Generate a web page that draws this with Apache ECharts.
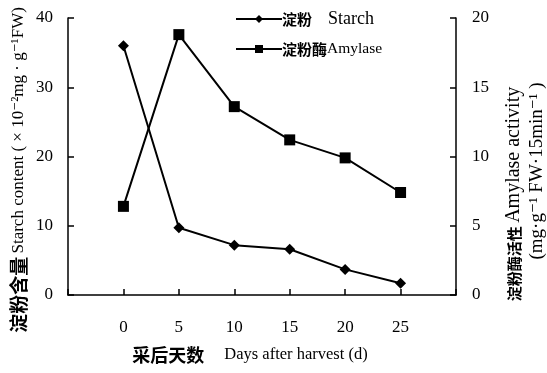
<!DOCTYPE html>
<html>
<head>
<meta charset="utf-8">
<script src="https://cdn.jsdelivr.net/npm/echarts@6/dist/echarts.min.js"></script>
<style>html,body{margin:0;padding:0;background:#fff;}#c{width:547px;height:373px;}</style>
</head>
<body>
<div id="c"></div>
<script>
var days = [0, 5, 10, 15, 20, 25];
var starch = [36.0, 9.7, 7.2, 6.6, 3.7, 1.7];
var amylase = [6.4, 18.8, 13.6, 11.2, 9.9, 7.4];
var leftTicks = [0, 10, 20, 30, 40];
var rightTicks = [0, 5, 10, 15, 20];

var SERIF = '"Liberation Serif","DejaVu Serif",serif';
var CJK = '"Noto Sans CJK SC",sans-serif';
var rich = {
  lc: {fontFamily: CJK, fontSize: 15, fontWeight: 'bold', color: '#000', lineHeight: 20},
  le: {fontFamily: SERIF, fontSize: 18, color: '#000', lineHeight: 20},
  le2: {fontFamily: SERIF, fontSize: 15.5, color: '#000', lineHeight: 20},
  gap: {width: 16, lineHeight: 20},
  yc: {fontFamily: CJK, fontSize: 19, fontWeight: 'bold', color: '#000'},
  ye: {fontFamily: SERIF, fontSize: 17, color: '#000'},
  rc: {fontFamily: CJK, fontSize: 15, fontWeight: 'bold', color: '#000'},
  re: {fontFamily: SERIF, fontSize: 20, color: '#000'},
  re2: {fontFamily: SERIF, fontSize: 19, color: '#000'},
  xc: {fontFamily: CJK, fontSize: 18, fontWeight: 'bold', color: '#000'},
  xg: {width: 20},
  xe: {fontFamily: SERIF, fontSize: 16.5, color: '#000'}
};

var chart = echarts.init(document.getElementById('c'), null, {renderer: 'canvas'});
var axisLine = {show: true, onZero: false, lineStyle: {color: '#000', width: 1.5}};
var tick = {show: true, inside: true, length: 6, lineStyle: {color: '#000', width: 1.5}};
chart.setOption({
  animation: false,
  backgroundColor: '#fff',
  grid: {left: 68, right: 91, top: 18, bottom: 78, containLabel: false},
  legend: {
    orient: 'vertical', left: 230, top: 5, itemGap: 13,
    itemWidth: 46, itemHeight: 10,
    data: ['淀粉 Starch', '淀粉酶Amylase'],
    formatter: function (n) {
      return n === '淀粉 Starch' ? '{lc|淀粉}{gap|}{le|Starch}' : '{lc|淀粉酶}{le2|Amylase}';
    },
    textStyle: {rich: rich, padding: [0, 0, 0, -5]}
  },
  xAxis: {
    type: 'value', min: -5, max: 30, interval: 5,
    axisLine: axisLine,
    axisTick: tick,
    splitLine: {show: false},
    axisLabel: {
      margin: 24, color: '#000', fontFamily: SERIF, fontSize: 17,
      formatter: function (v) { return days.indexOf(v) >= 0 ? String(v) : ''; }
    }
  },
  yAxis: [{
    type: 'value', min: leftTicks[0], max: leftTicks[leftTicks.length - 1], interval: 10,
    position: 'left',
    axisLine: axisLine,
    axisTick: tick,
    splitLine: {show: false},
    axisLabel: {margin: 15, color: '#000', fontFamily: SERIF, fontSize: 17}
  }, {
    type: 'value', min: rightTicks[0], max: rightTicks[rightTicks.length - 1], interval: 5,
    position: 'right',
    axisLine: axisLine,
    axisTick: tick,
    splitLine: {show: false},
    axisLabel: {margin: 16, color: '#000', fontFamily: SERIF, fontSize: 17}
  }],
  series: [{
    name: '淀粉 Starch', type: 'line', yAxisIndex: 0,
    data: days.map(function (d, i) { return [d, starch[i]]; }),
    symbol: 'diamond', symbolSize: 11,
    lineStyle: {color: '#000', width: 2},
    itemStyle: {color: '#000'}
  }, {
    name: '淀粉酶Amylase', type: 'line', yAxisIndex: 1,
    data: days.map(function (d, i) { return [d, amylase[i]]; }),
    symbol: 'rect', symbolSize: 11,
    lineStyle: {color: '#000', width: 2},
    itemStyle: {color: '#000'}
  }],
  graphic: [{
    type: 'text', x: 19, y: 170, rotation: Math.PI / 2,
    style: {
      text: '{yc|淀粉含量} {ye|Starch content ( × 10⁻²mg · g⁻¹FW)}',
      rich: rich, align: 'center', verticalAlign: 'middle'
    }
  }, {
    type: 'text', x: 514, y: 194, rotation: Math.PI / 2,
    style: {
      text: '{rc|淀粉酶活性} {re|Amylase activity}',
      rich: rich, align: 'center', verticalAlign: 'middle'
    }
  }, {
    type: 'text', x: 537, y: 171, rotation: Math.PI / 2,
    style: {
      text: '{re2|(mg·g⁻¹ FW·15min⁻¹ )}',
      rich: rich, align: 'center', verticalAlign: 'middle'
    }
  }, {
    type: 'text', x: 250, y: 355,
    style: {
      text: '{xc|采后天数}{xg|}{xe|Days after harvest (d)}',
      rich: rich, align: 'center', verticalAlign: 'middle'
    }
  }]
});
</script>
</body>
</html>
